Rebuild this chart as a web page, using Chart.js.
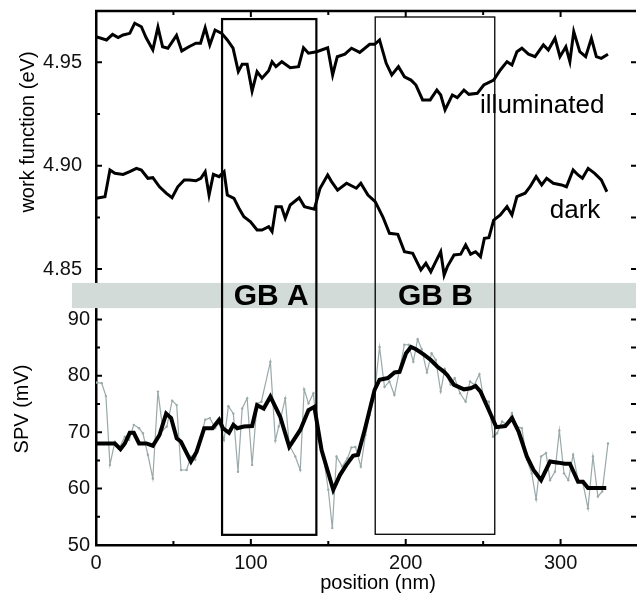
<!DOCTYPE html>
<html>
<head>
<meta charset="utf-8">
<script src="https://cdn.jsdelivr.net/npm/chart.js@4.4.1/dist/chart.umd.min.js"></script>
<style>
  html, body { margin: 0; padding: 0; background: #fff; }
</style>
</head>
<body>
<canvas id="chart" width="640" height="597"></canvas>
<script>
// work function, illuminated (position nm, eV)
const illumPos = [0, 6.8, 10.7, 14.3, 17.5, 21.8, 25, 29.3, 32.3, 36.7, 40, 43, 46.4, 52, 55.4, 60, 64.5, 67.5, 70.5, 73.5, 76.9, 81.2, 84.8, 88.5, 91.9, 94.4, 97.6, 100.8, 104, 107.2, 111.5, 113.7, 116.2, 120, 125.4, 130.8, 134, 137.2, 142.5, 149.6, 152.8, 155.8, 160.7, 165, 170.3, 176.7, 180, 183.1, 187.4, 191, 195.3, 199.2, 203.4, 206.6, 210.9, 215.8, 220.1, 222.6, 225.4, 230.1, 233.3, 237.6, 240.8, 246.2, 250.4, 256.8, 261.1, 265.4, 268.6, 271.8, 275, 279.3, 283.5, 288.9, 292.1, 296.4, 299.6, 303.4, 306, 308.5, 312.4, 316.2, 319.9, 323.1, 326.3, 330.6];
const illumWF = [4.9624, 4.9608, 4.9635, 4.962, 4.9632, 4.964, 4.9689, 4.9672, 4.962, 4.956, 4.967, 4.9575, 4.9568, 4.963, 4.9555, 4.9575, 4.9592, 4.9592, 4.9667, 4.9584, 4.9656, 4.964, 4.9608, 4.9568, 4.9455, 4.949, 4.949, 4.9361, 4.9455, 4.9423, 4.9459, 4.9503, 4.9479, 4.9503, 4.9474, 4.9479, 4.957, 4.9544, 4.9551, 4.957, 4.9439, 4.9527, 4.9539, 4.9568, 4.9548, 4.9587, 4.9587, 4.9608, 4.9495, 4.9439, 4.9479, 4.943, 4.9414, 4.939, 4.9318, 4.9318, 4.9366, 4.9342, 4.927, 4.9342, 4.9329, 4.9366, 4.9345, 4.935, 4.939, 4.9414, 4.9463, 4.9503, 4.9487, 4.9551, 4.9568, 4.9539, 4.9527, 4.9584, 4.9559, 4.9616, 4.9527, 4.9575, 4.9503, 4.9648, 4.9551, 4.9527, 4.9616, 4.9527, 4.9519, 4.9539];

// work function, dark (position nm, eV)
const darkPos = [0, 5.8, 9, 12.2, 17.5, 21.8, 26.1, 29.3, 33.5, 36.7, 41, 45.3, 49.1, 52.8, 57, 60.3, 64.5, 67.7, 70.5, 73, 75.8, 79.5, 82.7, 84.8, 89.1, 92.3, 95.5, 99.8, 104, 107.2, 111.5, 113.7, 116.2, 119.7, 122.2, 125.4, 131.2, 134.6, 141, 144.7, 149.6, 152.1, 156, 161.8, 168.1, 171, 175.6, 180.3, 185.2, 189.5, 194.9, 199.2, 204.5, 209.8, 213, 216.2, 219.4, 222.6, 224.8, 226.9, 231.2, 235.5, 238.7, 241.9, 245.1, 248.3, 250.8, 253.7, 256.8, 261.1, 265.4, 268.6, 271.8, 277.1, 280.3, 284.2, 287.8, 291, 295.3, 300.6, 303.8, 308.1, 311.3, 314.1, 317.8, 322, 326.3, 329.9];
const darkWF = [4.8842, 4.885, 4.8979, 4.8963, 4.8958, 4.8971, 4.8987, 4.8979, 4.8939, 4.8942, 4.8898, 4.8867, 4.8845, 4.8898, 4.8931, 4.8931, 4.8927, 4.8939, 4.8971, 4.8858, 4.8958, 4.8947, 4.8971, 4.8858, 4.8842, 4.8794, 4.8753, 4.8729, 4.8689, 4.8689, 4.8705, 4.8681, 4.8802, 4.8802, 4.8746, 4.881, 4.8845, 4.8802, 4.879, 4.8891, 4.8955, 4.8923, 4.8882, 4.8915, 4.8891, 4.8915, 4.8858, 4.8826, 4.8753, 4.8673, 4.8668, 4.8584, 4.8576, 4.8496, 4.8528, 4.8487, 4.8536, 4.8584, 4.8471, 4.8512, 4.8568, 4.8572, 4.8617, 4.8572, 4.8584, 4.856, 4.8649, 4.8652, 4.8737, 4.8762, 4.8802, 4.8762, 4.885, 4.8867, 4.8898, 4.8947, 4.8907, 4.8939, 4.8915, 4.8907, 4.8898, 4.8979, 4.8955, 4.8939, 4.8987, 4.8963, 4.8931, 4.8874];

// SPV raw (position nm, mV)
const rawPos = [0.4, 3.7, 6.4, 9, 12.2, 15.4, 18.6, 21.4, 24.4, 27.8, 30.3, 33.5, 36.7, 40, 43.2, 45.7, 49.2, 52.1, 54.9, 58.5, 61.3, 64.1, 67.7, 70.5, 73.5, 76.9, 79.5, 82.7, 85.5, 88.7, 91.7, 94.4, 97.6, 100.8, 104, 106.8, 112.6, 115.8, 118, 122.2, 124.8, 128.7, 131.9, 134.4, 137.2, 140.4, 143.1, 146.8, 150, 152.6, 155.3, 159, 162.4, 165, 167.5, 171, 174, 176.7, 179.5, 183.1, 186.3, 189.5, 192.7, 196, 199.1, 201.9, 204.9, 207.7, 210.3, 213.7, 216.7, 219.4, 222.6, 225.2, 229, 231.6, 235.1, 238.7, 241.5, 244.4, 247.6, 250.4, 253.7, 256.4, 259, 262.2, 265.4, 268.6, 271.8, 275, 278.2, 281.4, 284.2, 287.4, 290.6, 293.2, 296.4, 299.2, 302.2, 305, 308.1, 311.3, 314.5, 317.7, 320.9, 324.1, 326.9, 330.6];
const rawSPV = [78.8, 78.7, 76.4, 64.2, 68.3, 67.4, 69.2, 68.6, 71.3, 70.7, 69.8, 66.0, 61.8, 77.2, 70.4, 71.0, 75.6, 74.8, 63.3, 63.3, 65.7, 65.1, 69.2, 72.2, 72.5, 70.7, 71.6, 68.6, 74.6, 73.3, 63.0, 74.2, 76.0, 64.2, 75.1, 75.4, 82.5, 68.5, 71.0, 76.0, 67.7, 65.7, 63.3, 77.6, 75.1, 76.9, 68.9, 65.7, 59.8, 53.0, 65.7, 63.9, 65.4, 67.3, 67.4, 63.9, 69.5, 73.0, 76.0, 85.1, 78.0, 79.0, 76.6, 81.0, 85.5, 85.5, 82.5, 86.5, 84.7, 80.6, 84.0, 82.8, 77.2, 81.2, 78.4, 79.6, 76.9, 75.4, 79.0, 78.4, 80.3, 75.8, 75.4, 69.2, 69.8, 71.9, 71.3, 73.4, 71.0, 70.7, 65.1, 62.7, 58.1, 65.7, 66.3, 61.5, 63.0, 70.3, 62.7, 61.5, 66.0, 61.5, 60.9, 56.5, 65.7, 58.6, 59.5, 68.0];

// SPV smoothed (position nm, mV)
const smoothPos = [0, 12.2, 15.8, 18.6, 21.8, 24.4, 27.8, 32.5, 36.7, 41, 45.3, 48.5, 52.1, 54.9, 61.3, 64.9, 69.9, 75.2, 79.5, 82, 85.9, 88.7, 91.2, 95.5, 100.8, 104, 108.3, 112.6, 119, 124.8, 131.9, 137.2, 141, 145.7, 153.2, 157.5, 161.7, 166, 169.2, 173.5, 179.9, 183.1, 188.5, 192.8, 196, 200.2, 203.4, 206.6, 212, 216.2, 220.5, 224.8, 226.9, 231.2, 237.6, 241.9, 245.1, 248.3, 253.7, 258.5, 264.3, 268.6, 272.9, 278.2, 282.5, 287.4, 293.2, 298.5, 302.8, 306, 311.3, 314.5, 317.7, 329.5];
const smoothSPV = [68.0, 68.0, 67.0, 68.0, 69.9, 69.9, 68.0, 68.0, 67.6, 69.5, 73.3, 72.5, 68.9, 68.3, 64.8, 66.5, 70.7, 70.7, 72.2, 70.7, 69.9, 71.3, 70.7, 71.0, 71.1, 74.8, 74.2, 76.3, 72.7, 67.4, 70.4, 73.9, 74.5, 66.8, 59.8, 62.4, 64.2, 65.8, 66.0, 70.4, 77.5, 79.3, 79.6, 80.6, 80.7, 84.0, 85.1, 84.7, 83.7, 82.8, 81.6, 80.7, 80.1, 78.4, 77.6, 77.8, 78.2, 77.2, 73.9, 70.9, 71.1, 72.5, 70.1, 65.7, 63.3, 61.5, 64.8, 64.6, 64.4, 64.4, 61.2, 61.2, 60.1, 60.1];

// grain boundary boxes
const gbNames = ['GB A', 'GB B'];
const gbStart = [81.4, 180.3];
const gbEnd = [142.3, 257.5];
const gbTopWF = [4.9709, 4.9719];
const gbBottomSPV = [51.8, 51.9];
const gbLabelPos = [113.1, 219.2];

// axis ranges and ticks
const xMin = 0, xMax = 348.7;
const wfMin = 4.8365, wfMax = 4.9748;
const spvMin = 50, spvMax = 93.97;
const xTicks = [0, 50, 100, 150, 200, 250, 300];
const xTickLabels = ['0', '', '100', '', '200', '', '300'];
const wfTicks = [4.85, 4.875, 4.9, 4.925, 4.95];
const wfTickLabels = ['4.85', '', '4.90', '', '4.95'];
const spvTicks = [50, 55, 60, 65, 70, 75, 80, 85, 90];
const spvTickLabels = ['50', '', '60', '', '70', '', '80', '', '90'];

const FONT = "'Liberation Sans', Arial, Helvetica, sans-serif";
const GRAY = '#9aa9a9';

const pts = (xs, ys) => xs.map((x, i) => ({x: x, y: ys[i]}));

// fixed tick positions from the arrays above
const setTicks = (values) => (scale) => {
  scale.ticks = values.map(v => ({value: v}))
}
const labelFor = (values, labels) => (v) => {
  const i = values.findIndex(t => Math.abs(t - v) < 1e-9)
  return i < 0 ? '' : labels[i]
}

// drop the padding Chart.js reserves for edge labels, keep the fixed box size
const fixBox = (size) => (scale) => {
  if (scale.isHorizontal()) {
    scale.height = size
  } else {
    scale.width = size
  }
  scale.paddingTop = 0
  scale.paddingBottom = 0
  scale.paddingLeft = 0
  scale.paddingRight = 0
}

const decorations = {
  id: 'decorations',
  afterDraw(chart) {
    const {ctx, chartArea: area, scales} = chart;
    const x = scales.x, wf = scales.yWF, spv = scales.ySPV;
    ctx.save();
    ctx.strokeStyle = '#000';
    ctx.lineCap = 'butt';

    // tick marks pointing inward
    ctx.lineWidth = 2;
    x.ticks.forEach(t => {
      const px = x.getPixelForValue(t.value);
      const len = t.value % 100 === 0 ? 6 : 4;
      ctx.beginPath();
      ctx.moveTo(px, area.bottom); ctx.lineTo(px, area.bottom - len);
      ctx.moveTo(px, area.top); ctx.lineTo(px, area.top + len);
      ctx.stroke();
    });
    [wf, spv].forEach(s => {
      s.ticks.forEach(t => {
        const py = s.getPixelForValue(t.value);
        const len = t.label ? 6 : 4;
        ctx.beginPath();
        ctx.moveTo(area.left, py); ctx.lineTo(area.left + len, py);
        ctx.moveTo(area.right, py); ctx.lineTo(area.right - 5, py);
        ctx.stroke();
      });
    });

    // top frame
    ctx.lineWidth = 2.5;
    ctx.beginPath();
    ctx.moveTo(area.left - 1, area.top);
    ctx.lineTo(area.right, area.top);
    ctx.stroke();

    // gray band between the panels
    const bandTop = wf.getPixelForValue(4.8433);
    const bandBottom = spv.getPixelForValue(92.0);
    ctx.fillStyle = '#d3dbd9';
    ctx.fillRect(area.left - 24, bandTop, area.right - area.left + 24, bandBottom - bandTop);

    // grain boundary boxes
    gbNames.forEach((name, i) => {
      const x0 = x.getPixelForValue(gbStart[i]);
      const x1 = x.getPixelForValue(gbEnd[i]);
      const y0 = wf.getPixelForValue(gbTopWF[i]);
      const y1 = spv.getPixelForValue(gbBottomSPV[i]);
      ctx.lineWidth = i === 0 ? 2.2 : 1.3;
      ctx.strokeRect(x0, y0, x1 - x0, y1 - y0);
      ctx.fillStyle = '#000';
      ctx.font = 'bold 30px ' + FONT;
      ctx.textAlign = 'center';
      ctx.textBaseline = 'middle';
      ctx.fillText(name, x.getPixelForValue(gbLabelPos[i]), (bandTop + bandBottom) / 2 + 1);
    });

    // curve labels
    ctx.fillStyle = '#000';
    ctx.font = '26px ' + FONT;
    ctx.textAlign = 'left';
    ctx.textBaseline = 'alphabetic';
    ctx.fillText('illuminated', x.getPixelForValue(248), wf.getPixelForValue(4.9255));
    ctx.fillText('dark', x.getPixelForValue(293), wf.getPixelForValue(4.8747));

    // axis titles
    ctx.font = '20px ' + FONT;
    ctx.textAlign = 'center';
    ctx.textBaseline = 'middle';
    ctx.fillText('position (nm)', 378, 583);
    ctx.save();
    ctx.translate(28, 132);
    ctx.rotate(-Math.PI / 2);
    ctx.fillText('work function (eV)', 0, 0);
    ctx.restore();
    ctx.save();
    ctx.translate(22, 409);
    ctx.rotate(-Math.PI / 2);
    ctx.fillText('SPV (mV)', 0, 0);
    ctx.restore();

    ctx.restore();
  }
};

Chart.defaults.font.family = FONT;
Chart.defaults.color = '#111';

const axisBase = {
  type: 'linear',
  grid: { display: false, drawTicks: false },
  border: { display: true, color: '#000', width: 2.5 }
};

new Chart(document.getElementById('chart'), {
  type: 'line',
  data: {
    datasets: [
      {
        label: 'illuminated',
        data: pts(illumPos, illumWF),
        yAxisID: 'yWF',
        borderColor: '#000',
        borderWidth: 3,
        pointRadius: 0,
        tension: 0
      },
      {
        label: 'dark',
        data: pts(darkPos, darkWF),
        yAxisID: 'yWF',
        borderColor: '#000',
        borderWidth: 3,
        pointRadius: 0,
        tension: 0
      },
      {
        label: 'SPV smoothed',
        data: pts(smoothPos, smoothSPV),
        yAxisID: 'ySPV',
        borderColor: '#000',
        borderWidth: 4,
        pointRadius: 0,
        tension: 0
      },
      {
        label: 'SPV',
        data: pts(rawPos, rawSPV),
        yAxisID: 'ySPV',
        borderColor: GRAY,
        backgroundColor: GRAY,
        borderWidth: 1.2,
        pointRadius: 1.2,
        pointBorderWidth: 0,
        tension: 0
      }
    ]
  },
  options: {
    responsive: false,
    animation: false,
    layout: { padding: { top: 11, right: 0, left: 0, bottom: 0 } },
    plugins: {
      legend: { display: false },
      tooltip: { enabled: false }
    },
    scales: {
      x: {
        ...axisBase,
        min: xMin,
        max: xMax,
        afterBuildTicks: setTicks(xTicks),
        afterFit: fixBox(52),
        ticks: {
          autoSkip: false,
          padding: 6,
          font: { size: 20 },
          color: '#111',
          maxRotation: 0,
          callback: labelFor(xTicks, xTickLabels)
        }
      },
      ySPV: {
        ...axisBase,
        position: 'left',
        stack: 'panels',
        stackWeight: 248,
        min: spvMin,
        max: spvMax,
        afterBuildTicks: setTicks(spvTicks),
        afterFit: fixBox(96),
        ticks: {
          autoSkip: false,
          padding: 6,
          font: { size: 20 },
          color: '#111',
          callback: labelFor(spvTicks, spvTickLabels)
        }
      },
      yWF: {
        ...axisBase,
        position: 'left',
        stack: 'panels',
        stackWeight: 286,
        min: wfMin,
        max: wfMax,
        afterBuildTicks: setTicks(wfTicks),
        afterFit: fixBox(96),
        ticks: {
          autoSkip: false,
          padding: 14,
          font: { size: 20 },
          color: '#111',
          callback: labelFor(wfTicks, wfTickLabels)
        }
      }
    }
  },
  plugins: [decorations]
});
</script>
</body>
</html>
